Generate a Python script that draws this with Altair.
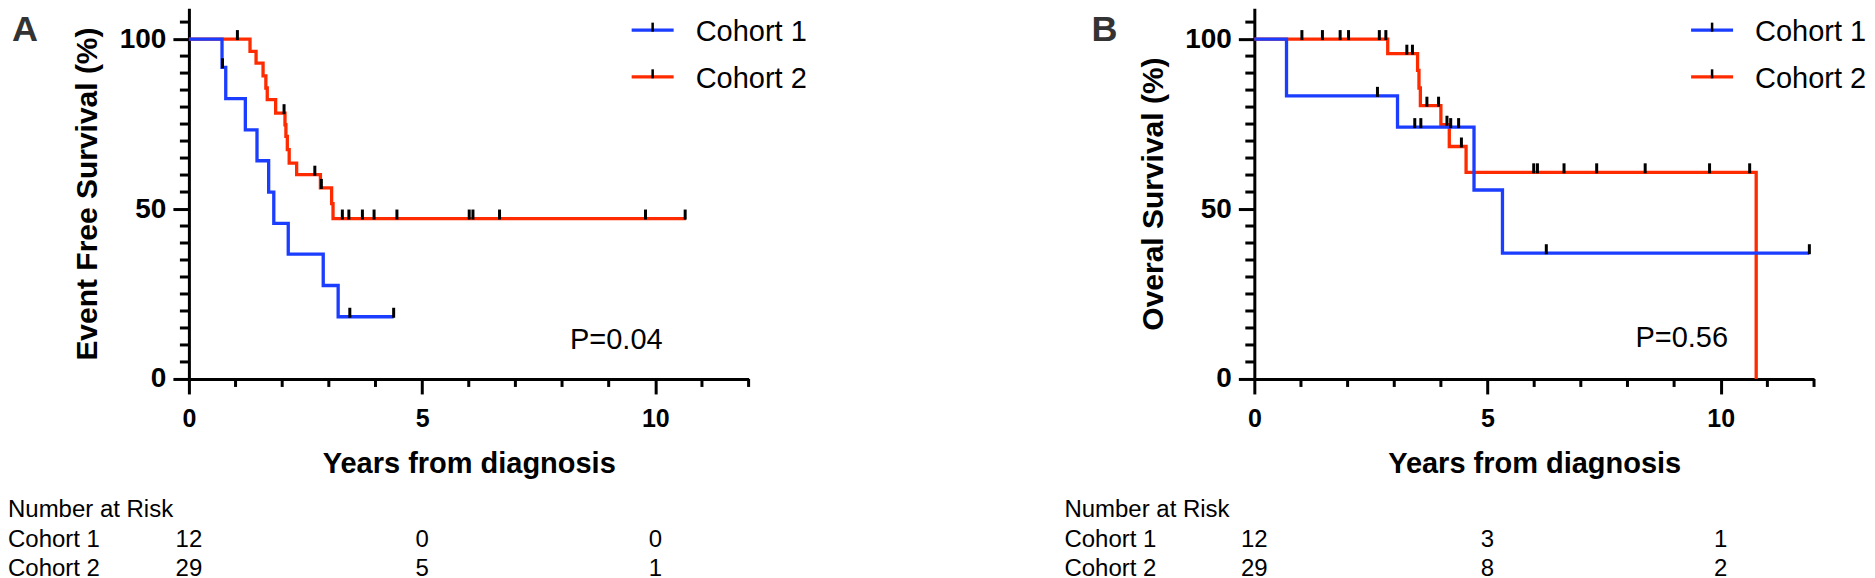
import altair as alt
import pandas as pd

# ---------------- data ----------------
risk_years = [0, 5, 10]
x_major_ticks = [0, 5, 10]
x_minor_ticks = [1, 2, 3, 4, 6, 7, 8, 9, 11, 12]
y_major_ticks = [0, 50, 100]
y_minor_ticks = [5, 10, 15, 20, 25, 30, 35, 40, 45, 55, 60, 65, 70, 75, 80, 85, 90, 95, 105]

# Panel A: Event free survival
efs_c1_t = [0, 0.71, 0.79, 1.21, 1.46, 1.71, 1.82, 2.13, 2.88, 3.20, 4.39]
efs_c1_s = [100, 91.7, 82.5, 73.3, 64.2, 55.0, 45.8, 36.7, 27.5, 18.3, 18.3]
efs_c1_cens_t = [0.72, 3.45, 4.39]
efs_c1_cens_s = [91.7, 18.3, 18.3]
efs_c2_t = [0, 1.31, 1.44, 1.59, 1.65, 1.68, 1.86, 2.06, 2.08, 2.11, 2.15, 2.31, 2.82, 3.06, 3.09, 10.66]
efs_c2_s = [100, 96.4, 92.9, 89.2, 85.6, 82.2, 78.2, 74.8, 71.4, 67.5, 63.5, 60.1, 56.2, 51.6, 47.2, 47.2]
efs_c2_cens_t = [1.04, 2.04, 2.70, 2.84, 3.29, 3.43, 3.72, 3.97, 4.46, 6.01, 6.09, 6.66, 9.79, 10.64]
efs_c2_cens_s = [100, 78.2, 60.1, 56.2, 47.2, 47.2, 47.2, 47.2, 47.2, 47.2, 47.2, 47.2, 47.2, 47.2]
efs_risk_c1 = [12, 0, 0]
efs_risk_c2 = [29, 5, 1]

# Panel B: Overall survival
os_c1_t = [0, 0.69, 3.07, 4.71, 5.32, 11.90]
os_c1_s = [100, 83.3, 74.1, 55.6, 37.0, 37.0]
os_c1_cens_t = [2.64, 3.44, 3.57, 4.21, 4.38, 6.26, 11.90]
os_c1_cens_s = [83.3, 74.1, 74.1, 74.1, 74.1, 37.0, 37.0]
os_c2_t = [0, 2.86, 3.50, 3.53, 3.56, 4.00, 4.18, 4.54, 10.76]
os_c2_s = [100, 95.7, 90.8, 85.6, 80.4, 74.8, 68.4, 60.8, 0]
os_c2_cens_t = [1.02, 1.46, 1.84, 2.02, 2.68, 2.82, 3.27, 3.39, 3.70, 3.95, 4.13, 4.44,
                5.99, 6.07, 6.64, 7.34, 8.38, 9.76, 10.62]
os_c2_cens_s = [100, 100, 100, 100, 100, 100, 95.7, 95.7, 80.4, 80.4, 74.8, 68.4,
                60.8, 60.8, 60.8, 60.8, 60.8, 60.8, 60.8]
os_risk_c1 = [12, 3, 1]
os_risk_c2 = [29, 8, 2]

# ---------------- styling ----------------
W, H = 560, 371
TOP = 8  # page y of the plot top
BLUE = "#1a3dff"
RED = "#ff2b00"
FONT = "Liberation Sans"
XS = alt.Scale(domain=[0, 12], nice=False, zero=False)
YS = alt.Scale(domain=[0, 109.1], nice=False, zero=False)

ROW_HEAD, ROW_1, ROW_2 = 517, 547, 576


def py(page_y):
    return page_y - TOP


def one():
    return pd.DataFrame({"k": [0]})


def x_axis():
    return alt.Axis(
        values=x_major_ticks, tickSize=15,
        tickWidth=3, tickColor="black", domainWidth=3, domainColor="black",
        labelFont=FONT, labelFontSize=25, labelFontWeight="bold", labelColor="black",
        labelPadding=13, labelFlush=False, labelOverlap=False, grid=False,
        title="Years from diagnosis", titleFont=FONT, titleFontSize=29,
        titleFontWeight="bold", titleColor="black", titleX=W / 2, titleY=94,
        titleBaseline="alphabetic", titleAlign="center",
    )


def y_axis(title):
    return alt.Axis(
        values=y_major_ticks, tickSize=16,
        tickWidth=3, tickColor="black", domainWidth=3, domainColor="black",
        labelFont=FONT, labelFontSize=28, labelFontWeight="bold", labelColor="black",
        labelPadding=7, labelFlush=False, labelOverlap=False, grid=False,
        title=title, titleFont=FONT, titleFontSize=30, titleFontWeight="bold",
        titleColor="black", titleX=-101, titleY=H / 2, titleAngle=270,
        titleBaseline="middle", titleAlign="center",
    )


def text_layer(txt, x, y, size, align="left", weight="normal", color="black"):
    return alt.Chart(one()).mark_text(
        text=txt, font=FONT, fontSize=size, fontWeight=weight, color=color,
        align=align, baseline="alphabetic",
    ).encode(x=alt.value(x), y=alt.value(y))


def panel(c1_t, c1_s, c1ct, c1cs, c2_t, c2_s, c2ct, c2cs, risk1, risk2,
          ytitle, letter, letter_x, pval, pval_y, leg_x, table_x, right_edge=None):
    c1 = pd.DataFrame({"t": c1_t, "s": c1_s})
    c2 = pd.DataFrame({"t": c2_t, "s": c2_s})
    cens = pd.DataFrame({"t": c2ct + c1ct, "s": c2cs + c1cs})
    r1 = pd.DataFrame({"t": risk_years, "n": risk1})
    r2 = pd.DataFrame({"t": risk_years, "n": risk2})
    xm = pd.DataFrame({"t": x_minor_ticks})
    ym = pd.DataFrame({"s": y_minor_ticks})

    xax = x_axis()
    yax = y_axis(ytitle)
    xq = alt.X("t:Q", scale=XS, axis=xax, title="Years from diagnosis")
    yq = alt.Y("s:Q", scale=YS, axis=yax, title=ytitle)

    red = alt.Chart(c2).mark_line(
        color=RED, strokeWidth=3.3, interpolate="step-after", strokeJoin="miter"
    ).encode(x=xq, y=yq)
    blue = alt.Chart(c1).mark_line(
        color=BLUE, strokeWidth=3.3, interpolate="step-after", strokeJoin="miter"
    ).encode(x=xq, y=yq)
    ticks = alt.Chart(cens).mark_tick(
        orient="vertical", color="black", thickness=3, size=10, yOffset=-4, opacity=1
    ).encode(x=xq, y=yq)

    xminor = alt.Chart(xm).mark_rule(color="black", strokeWidth=3).encode(
        x=xq, y=alt.value(H), y2=alt.value(H + 8))
    yminor = alt.Chart(ym).mark_rule(color="black", strokeWidth=3).encode(
        y=yq, x=alt.value(0), x2=alt.value(-9))

    n1 = alt.Chart(r1).mark_text(font=FONT, fontSize=24, align="center", baseline="alphabetic",
                                 color="black").encode(x=xq, y=alt.value(py(ROW_1)), text="n:Q")
    n2 = alt.Chart(r2).mark_text(font=FONT, fontSize=24, align="center", baseline="alphabetic",
                                 color="black").encode(x=xq, y=alt.value(py(ROW_2)), text="n:Q")

    leg = []
    for i, (col, name) in enumerate([(BLUE, "Cohort 1"), (RED, "Cohort 2")]):
        ly = 30 + i * 46.7
        leg.append(alt.Chart(one()).mark_rule(color=col, strokeWidth=3.3).encode(
            x=alt.value(leg_x), x2=alt.value(leg_x + 42), y=alt.value(py(ly))))
        leg.append(alt.Chart(one()).mark_rule(color="black", strokeWidth=2.5).encode(
            x=alt.value(leg_x + 21), y=alt.value(py(ly - 7.5)), y2=alt.value(py(ly + 1.5))))
        leg.append(text_layer(name, leg_x + 64, py(41 + i * 47), 29))

    extra = [
        text_layer(letter, letter_x, py(41), 36, weight="bold", color="#333333"),
        text_layer(pval, 474, py(pval_y), 29, align="right"),
        text_layer("Number at Risk", table_x, py(ROW_HEAD), 24),
        text_layer("Cohort 1", table_x, py(ROW_1), 24),
        text_layer("Cohort 2", table_x, py(ROW_2), 24),
    ]
    if right_edge is not None:
        extra.append(alt.Chart(one()).mark_rule(opacity=0, strokeWidth=0).encode(
            x=alt.value(right_edge), y=alt.value(0), y2=alt.value(5)))

    return alt.layer(xminor, yminor, red, blue, ticks, n1, n2, *leg, *extra).properties(
        width=W, height=H)


pa = panel(efs_c1_t, efs_c1_s, efs_c1_cens_t, efs_c1_cens_s,
           efs_c2_t, efs_c2_s, efs_c2_cens_t, efs_c2_cens_s,
           efs_risk_c1, efs_risk_c2, "Event Free Survival (%)", "A", -177,
           "P=0.04", 349, 443, -181, right_edge=700)
pb = panel(os_c1_t, os_c1_s, os_c1_cens_t, os_c1_cens_s,
           os_c2_t, os_c2_s, os_c2_cens_t, os_c2_cens_s,
           os_risk_c1, os_risk_c2, "Overal Survival (%)", "B", -163,
           "P=0.56", 347, 437, -190)

chart = alt.hconcat(pa, pb, spacing=176).properties(
    padding=0, background="white"
).configure_view(stroke=None)

chart.save("out.html", embed_options={"renderer": "svg", "actions": False})
